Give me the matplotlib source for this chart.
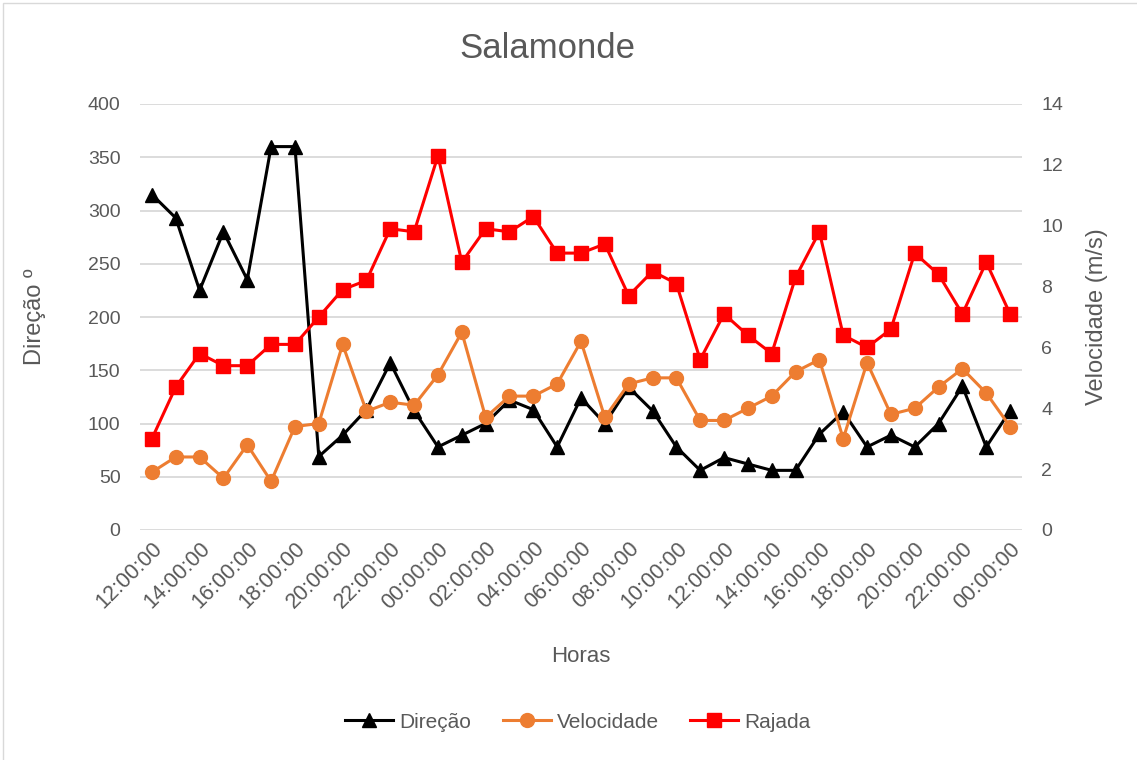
import matplotlib
matplotlib.use('Agg')
import matplotlib.pyplot as plt
from matplotlib.patches import Rectangle

plt.rcParams['font.family'] = ['Liberation Sans Narrow', 'Liberation Sans', 'DejaVu Sans']

# hourly readings, 12:00 to 00:00 of the following day
horas = ['12:00:00', '13:00:00', '14:00:00', '15:00:00', '16:00:00', '17:00:00',
         '18:00:00', '19:00:00', '20:00:00', '21:00:00', '22:00:00', '23:00:00',
         '00:00:00', '01:00:00', '02:00:00', '03:00:00', '04:00:00', '05:00:00',
         '06:00:00', '07:00:00', '08:00:00', '09:00:00', '10:00:00', '11:00:00',
         '12:00:00', '13:00:00', '14:00:00', '15:00:00', '16:00:00', '17:00:00',
         '18:00:00', '19:00:00', '20:00:00', '21:00:00', '22:00:00', '23:00:00',
         '00:00:00']
direcao = [315, 293, 225, 280, 235, 360, 360, 69, 89, 113, 157, 112,
           78, 89, 100, 122, 113, 78, 124, 100, 134, 112, 78, 56,
           68, 62, 56, 56, 90, 111, 78, 89, 78, 100, 135, 78, 112]
velocidade = [1.9, 2.4, 2.4, 1.7, 2.8, 1.6, 3.4, 3.5, 6.1, 3.9, 4.2, 4.1,
              5.1, 6.5, 3.7, 4.4, 4.4, 4.8, 6.2, 3.7, 4.8, 5.0, 5.0, 3.6,
              3.6, 4.0, 4.4, 5.2, 5.6, 3.0, 5.5, 3.8, 4.0, 4.7, 5.3, 4.5, 3.4]
rajada = [3.0, 4.7, 5.8, 5.4, 5.4, 6.1, 6.1, 7.0, 7.9, 8.2, 9.9, 9.8,
          12.3, 8.8, 9.9, 9.8, 10.3, 9.1, 9.1, 9.4, 7.7, 8.5, 8.1, 5.6,
          7.1, 6.4, 5.8, 8.3, 9.8, 6.4, 6.0, 6.6, 9.1, 8.4, 7.1, 8.8, 7.1]

cinza = '#595959'
x = list(range(len(horas)))

fig = plt.figure(figsize=(11.37, 7.6), dpi=100)
ax1 = fig.add_axes([140 / 1137, 230 / 760, 882 / 1137, 426 / 760])
ax2 = ax1.twinx()

l1, = ax1.plot(x, direcao, color='black', lw=2.2, marker='^', ms=10, label='Direção')
l2, = ax2.plot(x, velocidade, color='#ED7D31', lw=2.2, marker='o', ms=10, label='Velocidade')
l3, = ax2.plot(x, rajada, color='#FF0000', lw=2.2, marker='s', ms=9.5, label='Rajada')

ax1.set_xlim(-0.5, len(horas) - 0.5)
ax1.set_ylim(0, 400)
ax2.set_ylim(0, 14)
ax1.set_yticks(range(0, 401, 50))
ax2.set_yticks(range(0, 15, 2))
ax1.set_xticks(x[::2])
ax1.set_xticklabels(horas[::2], rotation=45, ha='right', rotation_mode='anchor')

ax1.grid(axis='y', color='#d9d9d9', lw=1.3)
ax1.set_axisbelow(True)
for ax in (ax1, ax2):
    for s in ax.spines.values():
        s.set_visible(False)
    ax.tick_params(length=0, labelsize=14, colors=cinza)
ax1.tick_params(axis='y', pad=14)
ax1.tick_params(axis='x', pad=6, labelsize=15.5)
ax2.tick_params(axis='y', pad=14)

ax1.set_ylabel('Direção º', fontsize=17, color=cinza, labelpad=30)
ax2.set_ylabel('Velocidade (m/s)', fontsize=17, color=cinza, labelpad=16)
ax1.set_xlabel('Horas', fontsize=16, color=cinza, labelpad=24)
fig.text(547 / 1137, 1 - 48 / 760, 'Salamonde', ha='center', va='center', fontsize=25, color=cinza)

fig.legend(handles=[l1, l2, l3], loc='center', bbox_to_anchor=(578 / 1137, 1 - 722 / 760),
           ncol=3, frameon=False, fontsize=15, labelcolor=cinza,
           handlelength=2.3, handletextpad=0.3, columnspacing=1.5)

# thin frame round the chart
fig.patches.append(Rectangle((3 / 1137, -0.01), 1.2, 1 - 3 / 760 + 0.01, transform=fig.transFigure,
                             fill=False, edgecolor='#d9d9d9', lw=1))

fig.savefig('out.png', dpi=100)
